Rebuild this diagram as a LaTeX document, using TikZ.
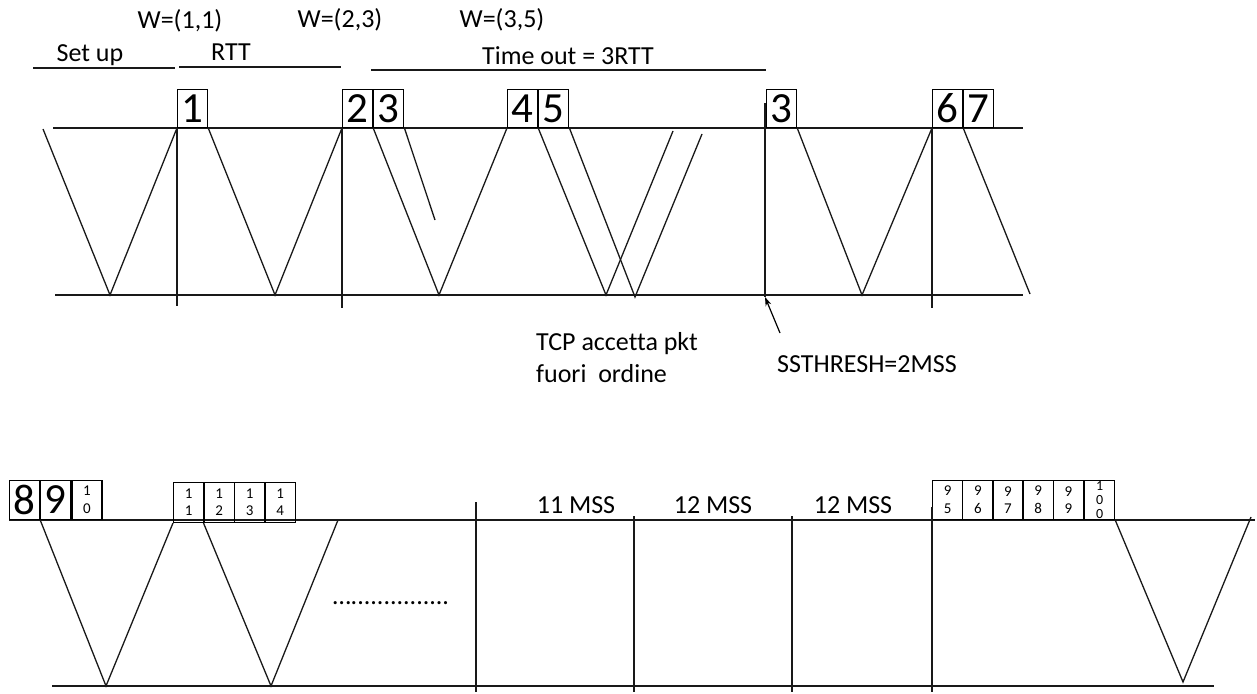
\documentclass[tikz,border=0pt]{standalone}
\usepackage{fontspec}
\setmainfont{Carlito}[Ligatures=CommonOff]
\usetikzlibrary{arrows.meta,positioning,calc}
\tikzset{
  seg/.style={draw, line width=1.2pt, minimum width=30pt, minimum height=38pt,
    inner sep=0pt, anchor=south west, font=\fontsize{43}{46}\selectfont},
  segsmall/.style={draw, line width=1.2pt, minimum width=30pt, minimum height=39pt,
    inner sep=0pt, anchor=south west, align=center, font=\fontsize{15}{17.5}\selectfont},
  wire/.style={line width=1.3pt, black!90},
  txt/.style={inner sep=0pt, anchor=base, font=\fontsize{26}{32}\selectfont},
  pointer/.style={-{Stealth[length=9pt, width=6pt]}, line width=1.2pt}
}
\begin{document}
\begin{tikzpicture}[x=1pt, y=-1pt]
  \useasboundingbox (0,0) rectangle (1257,693);

  % window sizes and periods
  \node[txt] (w11) at (180,29) {W=(1,1)};
  \node[txt] (w23) at (340,28) {W=(2,3)};
  \node[txt] (w35) at (502,28) {W=(3,5)};
  \node[txt] (setup) at (90,61) {Set up};
  \node[txt] (rtt) at (231,60) {RTT};
  \node[txt] (tout) at (568,64) {Time out = 3RTT};
  \coordinate (su1) at (33,68);  \coordinate (su2) at (175,68);
  \coordinate (rt1) at (179,67); \coordinate (rt2) at (341,67);
  \coordinate (to1) at (371,70); \coordinate (to2) at (766,70);
  \draw[wire] (su1) -- (su2);
  \draw[wire] (rt1) -- (rt2);
  \draw[wire] (to1) -- (to2);

  % first time axes
  \coordinate (ta) at (53,128);  \coordinate (tb) at (1023,128);
  \coordinate (ba) at (55,295);  \coordinate (bb) at (1023,295);
  \draw[wire] (ta) -- (tb);
  \draw[wire] (ba) -- (bb);

  \node[seg] (p1) at (177,128) {1};
  \node[seg] (p2) at (342,128) {2};
  \node[seg, right=0pt of p2] (p3) {3};
  \node[seg] (p4) at (507,128) {4};
  \node[seg, right=0pt of p4] (p5) {5};
  \node[seg] (p3b) at (766,128) {3};
  \node[seg] (p6) at (932,128) {6};
  \node[seg, right=0pt of p6] (p7) {7};

  \coordinate (s0) at (43,129);  \coordinate (v0) at (110,295);
  \coordinate (v1) at (275,295); \coordinate (v2) at (439,295);
  \coordinate (lost) at (435,220);
  \coordinate (v3) at (606,295); \coordinate (e3) at (673,131);
  \coordinate (v4) at (635,297); \coordinate (e4) at (702,134);
  \coordinate (v5) at (862,295); \coordinate (v6) at (1030,294);
  \draw[wire] (s0) -- (v0) -- (p1.south west);
  \draw[wire] (p1.south east) -- (v1) -- (p2.south west);
  \draw[wire] (p3.south west) -- (v2) -- (p4.south west);
  \draw[wire] (p3.south east) -- (lost);
  \draw[wire] (p5.south west) -- (v3) -- (e3);
  \draw[wire] (p5.south east) -- (v4) -- (e4);
  \draw[wire] (p3b.south east) -- (v5) -- (p6.south west);
  \draw[wire] (p7.south west) -- (v6);

  \coordinate (tk0) at (765,103); \coordinate (tk1) at (765,297);
  \draw[wire] (p1.south west) -- ++(0,178);
  \draw[wire] (p2.south west) -- ++(0,180);
  \draw[wire] (tk0) -- (tk1);
  \draw[wire] (p6.south west) -- ++(0,180);

  \node[txt, anchor=base west] (tcp) at (536,350) {TCP accetta pkt};
  \node[txt, anchor=base west] (fuori) at (536,382) {fuori\ \ ordine};
  \node[txt, anchor=base west] (ssth) at (777,372) {SSTHRESH=2MSS};
  \coordinate (ar) at (780,333);
  \draw[pointer] (ar) -- (tk1);

  % second time axes
  \coordinate (ta2) at (9,520);  \coordinate (tb2) at (1255,520);
  \coordinate (ba2) at (52,686); \coordinate (bb2) at (1214,686);
  \draw[wire] (ta2) -- (tb2);
  \draw[wire] (ba2) -- (bb2);

  \node[seg, minimum height=39pt] (q8) at (9,520) {8};
  \node[seg, minimum height=39pt, right=0pt of q8] (q9) {9};
  \node[segsmall, right=0pt of q9] (q10) {1\\0};
  \foreach \d [count=\i from 0] in {1,...,4}
    \node[segsmall, minimum height=40pt] (q1\d) at ({173+30.5*\i},523) {1\\\d};
  \foreach \d [count=\i from 0] in {5,...,9}
    \node[segsmall] (r9\d) at ({932+30.2*\i},520) {9\\\d};
  \node[segsmall, right=0pt of r99, font=\fontsize{14}{14}\selectfont] (r100) {1\\0\\0};

  \coordinate (u0) at (106,686); \coordinate (u1) at (271,686);
  \coordinate (f1) at (338,520);
  \coordinate (u2) at (1183,682); \coordinate (f2) at (1251,517);
  \draw[wire] (q8.south east) -- (u0) -- (q11.south west);
  \draw[wire] (q12.south west) -- (u1) -- (f1);
  \draw[wire] (r100.south east) -- (u2) -- (f2);

  \node[txt] (dots) at (391,604) {…...............};

  \foreach \x/\y in {476/502, 634/516, 792/516, 932/507}
    \draw[wire] (\x,\y) -- (\x,692);
  \node[txt] (m11) at (576,513) {11 MSS};
  \node[txt] (m12) at (713,513) {12 MSS};
  \node[txt] (m12b) at (853,513) {12 MSS};
\end{tikzpicture}
\end{document}
